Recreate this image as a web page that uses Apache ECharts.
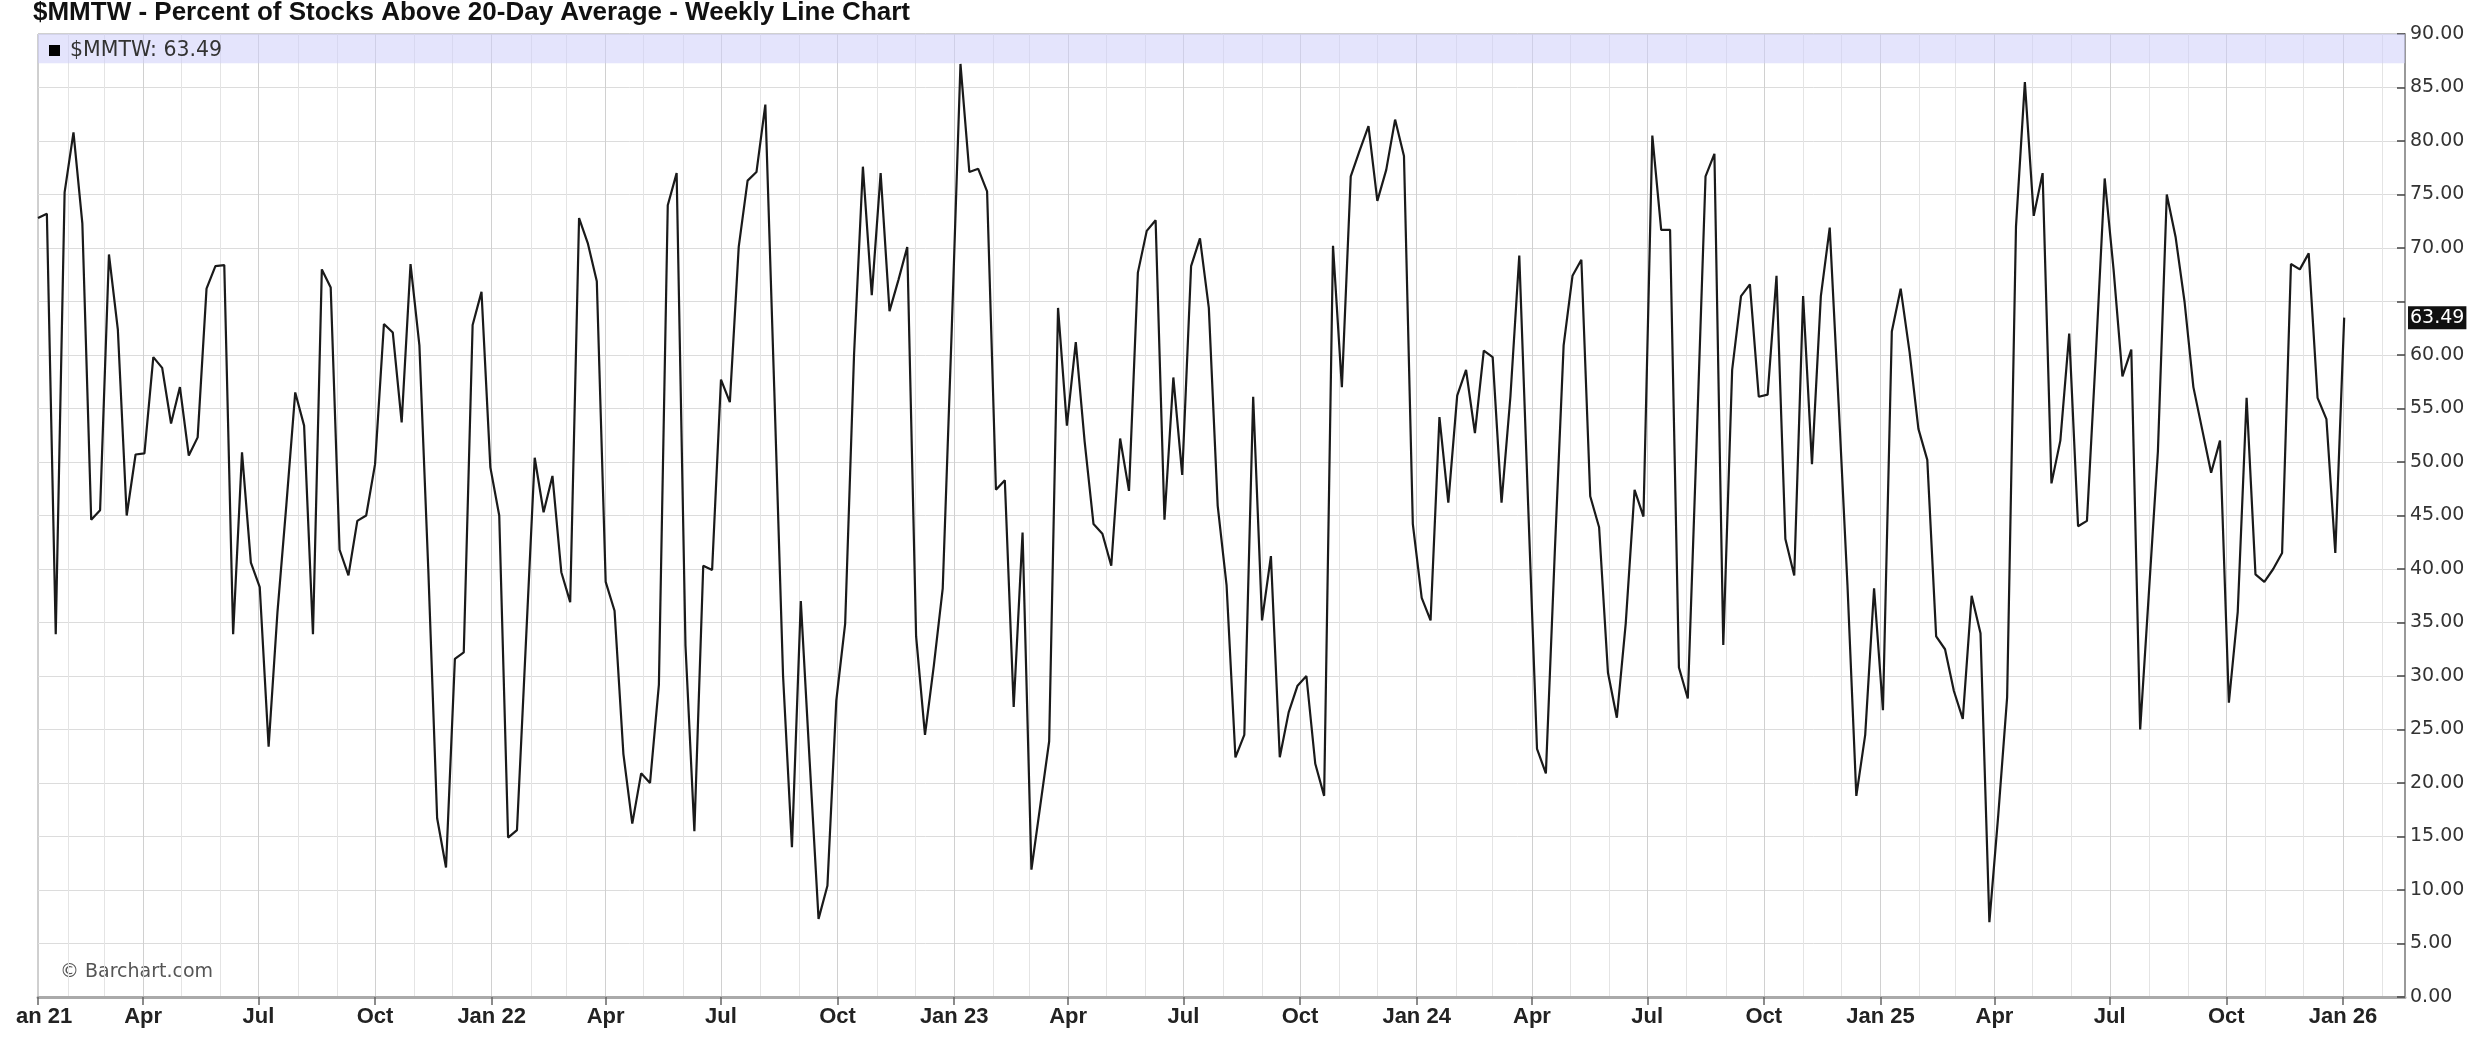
<!DOCTYPE html>
<html><head><meta charset="utf-8">
<script src="https://cdn.jsdelivr.net/npm/echarts@6/dist/echarts.min.js"></script>
<style>
html,body{margin:0;padding:0;background:#fff;overflow:hidden;width:2478px;height:1044px}
#chart{position:absolute;left:15px;top:0;width:2463px;height:1044px}
</style>
</head><body><div id="chart"></div>
<script>
const seriesName = '$MMTW';
const titleText = '$MMTW - Percent of Stocks Above 20-Day Average - Weekly Line Chart';
const firstWeek = '2021-01-08';   // weekly points, one every 7 days
const lastAxisDate = '2026-02-19';

const v2021 = [72.8,73.2,33.9,75.2,80.8,72.3,44.6,45.5,69.4,62.4,45.0,50.7,50.8,59.8,58.8,53.6,57.0,50.6,52.3,66.2,68.3,68.4,33.9,50.9,40.6,38.3,23.4,36,46,56.5,53.4,33.9,68.0,66.3,41.8,39.4,44.5,45.0,49.8,62.9,62.1,53.7,68.5,60.9,40,16.7,12.1,31.6,32.2,62.8,65.9,49.5];
const v2022 = [45.0,14.9,15.6,33,50.4,45.3,48.7,39.7,36.9,72.8,70.4,66.9,38.8,36.1,22.7,16.2,20.9,20.0,29.2,74.0,77.0,32.8,15.5,40.3,39.9,57.7,55.6,70.1,76.3,77.1,83.4,57,30,14.0,37.0,22,7.3,10.4,27.7,34.9,60,77.6,65.6,77.0,64.1,67,70.1,33.7,24.5,31.0,38.2,62];
const v2023 = [87.2,77.1,77.4,75.3,47.4,48.3,27.1,43.4,11.9,17.9,23.9,64.4,53.4,61.2,51.9,44.2,43.3,40.3,52.2,47.3,67.7,71.6,72.6,44.6,57.9,48.8,68.3,70.9,64.4,45.9,38.5,22.4,24.5,56.1,35.2,41.2,22.4,26.6,29.1,30.0,21.8,18.8,70.2,57.0,76.7,79.1,81.4,74.4,77.3,82.0,78.6,44.2];
const v2024 = [37.3,35.2,54.2,46.2,56.2,58.6,52.7,60.4,59.8,46.2,56.1,69.3,46,23.2,20.9,41.5,60.9,67.4,68.9,46.8,43.9,30.3,26.1,34.9,47.4,44.9,80.5,71.7,71.7,30.8,27.9,52,76.7,78.8,32.9,58.6,65.5,66.6,56.1,56.3,67.4,42.8,39.4,65.5,49.8,65.5,71.9,55.5,38.5,18.8,24.5,38.2];
const v2025 = [26.8,62.2,66.2,60.3,53.1,50.2,33.7,32.5,28.6,26,37.5,34,7,17,28,72,85.5,73,77,48,52,62,44,44.5,60,76.5,68,58,60.5,25,38,51,75,71,65,57,53,49,52,27.5,36,56,39.5,38.8,40,41.5,68.5,68,69.5,56,54,41.5];
const v2026 = [63.49];

const tickDates = ['2021-01-08','2021-04-01','2021-07-01','2021-10-01','2022-01-01','2022-04-01','2022-07-01','2022-10-01','2023-01-01','2023-04-01','2023-07-01','2023-10-01','2024-01-01','2024-04-01','2024-07-01','2024-10-01','2025-01-01','2025-04-01','2025-07-01','2025-10-01','2026-01-01'];
const tickLabels = ['Jan 21','Apr','Jul','Oct','Jan 22','Apr','Jul','Oct','Jan 23','Apr','Jul','Oct','Jan 24','Apr','Jul','Oct','Jan 25','Apr','Jul','Oct','Jan 26'];

const yMin = 0, yMax = 90, yStep = 5;
const legendBandFrom = 87.26;   // lavender header band

// ---- build ----
const DAY = 86400000;
const ts = s => Date.parse(s + 'T00:00:00Z');
const values = [].concat(v2021, v2022, v2023, v2024, v2025, v2026);
const t0 = ts(firstWeek);
const weekDates = values.map((_, i) => t0 + i * 7 * DAY);
const data = values.map((v, i) => [weekDates[i], v]);
const lastValue = values[values.length - 1];
const xMin = t0, xMax = ts(lastAxisDate);
const tickTs = tickDates.map(ts);
const monthTs = [];
for (let y = 2021; y <= 2026; y++) for (let m = 0; m < 12; m++) {
  const t = Date.UTC(y, m, 1);
  if (t > xMin && t < xMax) monthTs.push(t);
}

const chart = echarts.init(document.getElementById('chart'), null, {renderer: 'canvas'});
chart.setOption({
  animation: false,
  backgroundColor: '#fff',
  title: {
    text: titleText, left: 18, top: 0, padding: 0,
    textStyle: {fontFamily: 'Liberation Sans', fontWeight: 'bold', fontSize: 26, color: '#111', lineHeight: 26}
  },
  legend: {
    left: 34, top: 40, padding: 0, itemWidth: 11, itemHeight: 11, icon: 'rect',
    data: [seriesName],
    formatter: () => seriesName + ': ' + lastValue.toFixed(2),
    itemStyle: {color: '#000'},
    textStyle: {fontFamily: 'DejaVu Sans', fontSize: 20.5, color: '#333', padding: [0, 0, 0, 5]}
  },
  graphic: [{
    type: 'text', left: 45, top: 963, silent: true,
    style: {text: '\u00a9 Barchart.com', fontFamily: 'DejaVu Sans', fontSize: 19, fill: '#555'}
  }],
  grid: {left: 23, right: 73, top: 34, bottom: 47, show: true, borderColor: '#a0a0a0', borderWidth: 1, containLabel: false, outerBoundsMode: 'none'},
  xAxis: [{
    type: 'value', min: xMin, max: xMax, position: 'bottom',
    axisLine: {show: true, onZero: false, lineStyle: {color: '#aaaaaa', width: 3}},
    axisTick: {show: false, customValues: monthTs},
    splitLine: {show: true, lineStyle: {color: ['#e4e4e4', '#e4e4e4', '#d0d0d0'], width: 1}},
    axisLabel: {
      customValues: tickTs, margin: 9,
      fontFamily: 'Liberation Sans', fontWeight: 'bold', fontSize: 22, color: '#222',
      formatter: v => { const k = tickTs.indexOf(v); return k >= 0 ? tickLabels[k] : ''; }
    }
  }, {
    type: 'value', min: xMin, max: xMax, position: 'bottom',
    axisLine: {show: false},
    axisTick: {show: true, customValues: tickTs, length: 8, lineStyle: {color: '#666', width: 1.5}},
    axisLabel: {show: false},
    splitLine: {show: false}
  }],
  yAxis: {
    type: 'value', position: 'right', min: yMin, max: yMax, interval: yStep,
    axisLine: {show: true, lineStyle: {color: '#999', width: 2}},
    axisTick: {show: true, inside: true, length: 8, lineStyle: {color: '#444', width: 1.5}},
    splitLine: {show: true, lineStyle: {color: '#dcdcdc', width: 1}},
    axisLabel: {
      margin: 5, fontFamily: 'DejaVu Sans', fontSize: 19, color: '#333',
      formatter: v => (v === 65 ? '' : v.toFixed(2))
    }
  },
  series: [{
    name: seriesName, type: 'line', xAxisIndex: 0, data: data, clip: false,
    symbol: 'none', showSymbol: false,
    lineStyle: {color: '#1a1a1a', width: 2.2},
    itemStyle: {color: '#000'},
    markArea: {
      silent: true,
      itemStyle: {color: 'rgba(205,205,250,0.55)'},
      data: [[{yAxis: legendBandFrom}, {yAxis: yMax}]]
    },
    markLine: {
      silent: true, symbol: ['none', 'none'], precision: 2,
      lineStyle: {color: 'rgba(0,0,0,0)', opacity: 1, width: 1, type: 'solid'},
      label: {
        show: true, position: 'end', distance: 3, formatter: lastValue.toFixed(2),
        backgroundColor: '#111', color: '#fff', opacity: 1, padding: [3, 2, 1, 2],
        fontFamily: 'DejaVu Sans', fontSize: 19
      },
      data: [{yAxis: lastValue, name: 'last'}]
    }
  }]
});
</script></body></html>
